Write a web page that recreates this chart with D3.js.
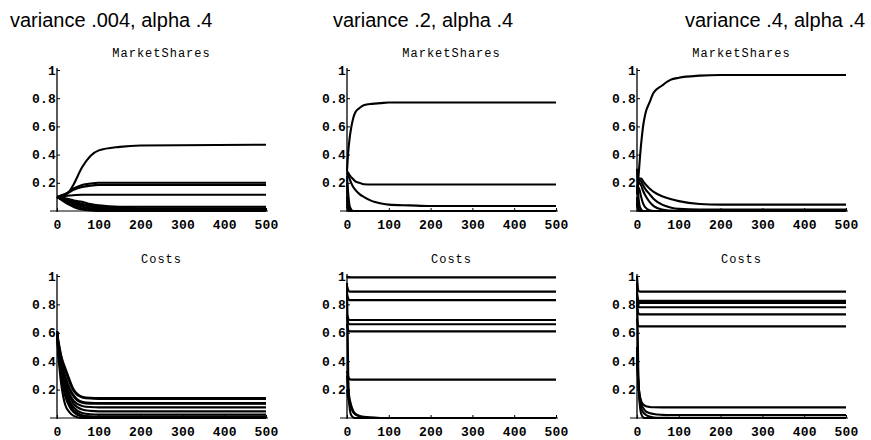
<!DOCTYPE html>
<html>
<head>
<meta charset="utf-8">
<script src="https://cdn.jsdelivr.net/npm/d3@7"></script>
<style>
  body { margin: 0; background: #fff; }
  svg { display: block; }
  .big { font-family: "Liberation Sans", Arial, sans-serif; font-size: 20px; }
  .mono { font-family: "Liberation Mono", "Courier New", monospace; }
</style>
</head>
<body>
<svg width="871" height="440"></svg>
<script>
// time points shared by every series
var times = [0, 3, 6, 10, 15, 20, 30, 40, 60, 80, 100, 150, 200, 500];

var panelTitles = ["variance .004, alpha .4", "variance .2, alpha .4", "variance .4, alpha .4"];
var xTicks = [0, 100, 200, 300, 400, 500];
var yTicks = [0.2, 0.4, 0.6, 0.8, 1];

// variance .004
var shares1 = [
  [0.1, 0.1, 0.1, 0.105, 0.11, 0.115, 0.14, 0.19, 0.31, 0.39, 0.43, 0.455, 0.465, 0.47],
  [0.1, 0.1, 0.105, 0.11, 0.115, 0.12, 0.14, 0.16, 0.185, 0.195, 0.2, 0.2, 0.2, 0.2],
  [0.1, 0.1, 0.105, 0.11, 0.115, 0.12, 0.135, 0.15, 0.17, 0.18, 0.185, 0.185, 0.185, 0.185],
  [0.1, 0.1, 0.1, 0.102, 0.105, 0.107, 0.11, 0.112, 0.115, 0.115, 0.115, 0.115, 0.115, 0.115],
  [0.1, 0.1, 0.099, 0.097, 0.094, 0.09, 0.083, 0.075, 0.065, 0.05, 0.04, 0.03, 0.03, 0.03],
  [0.1, 0.098, 0.096, 0.093, 0.089, 0.085, 0.077, 0.068, 0.052, 0.04, 0.032, 0.022, 0.02, 0.02],
  [0.1, 0.097, 0.094, 0.09, 0.085, 0.08, 0.07, 0.06, 0.042, 0.03, 0.022, 0.012, 0.01, 0.01],
  [0.1, 0.096, 0.092, 0.087, 0.08, 0.074, 0.062, 0.05, 0.032, 0.02, 0.013, 0.006, 0.005, 0.005],
  [0.1, 0.095, 0.09, 0.083, 0.075, 0.067, 0.052, 0.04, 0.02, 0.01, 0.005, 0.001, 0, 0],
  [0.1, 0.094, 0.088, 0.08, 0.07, 0.06, 0.043, 0.028, 0.01, 0.003, 0.001, 0, 0, 0]
];
var costs1 = [
  [0.61, 0.55, 0.5, 0.44, 0.39, 0.35, 0.27, 0.2, 0.15, 0.142, 0.14, 0.14, 0.14, 0.14],
  [0.61, 0.54, 0.49, 0.43, 0.37, 0.33, 0.25, 0.19, 0.145, 0.137, 0.135, 0.135, 0.135, 0.135],
  [0.61, 0.53, 0.47, 0.4, 0.34, 0.29, 0.21, 0.16, 0.115, 0.107, 0.105, 0.105, 0.105, 0.105],
  [0.61, 0.52, 0.46, 0.39, 0.33, 0.28, 0.2, 0.15, 0.108, 0.101, 0.1, 0.1, 0.1, 0.1],
  [0.61, 0.51, 0.44, 0.37, 0.3, 0.25, 0.17, 0.12, 0.085, 0.077, 0.075, 0.075, 0.075, 0.075],
  [0.61, 0.5, 0.43, 0.35, 0.28, 0.23, 0.15, 0.1, 0.06, 0.05, 0.047, 0.047, 0.047, 0.047],
  [0.61, 0.49, 0.41, 0.33, 0.26, 0.2, 0.12, 0.075, 0.035, 0.026, 0.024, 0.024, 0.024, 0.024],
  [0.61, 0.48, 0.4, 0.31, 0.24, 0.18, 0.1, 0.055, 0.02, 0.012, 0.01, 0.01, 0.01, 0.01],
  [0.61, 0.47, 0.38, 0.29, 0.21, 0.15, 0.08, 0.04, 0.01, 0.002, 0, 0, 0, 0],
  [0.61, 0.45, 0.35, 0.24, 0.15, 0.09, 0.04, 0.015, 0, 0, 0, 0, 0, 0]
];

// variance .2
var shares2 = [
  [0.28, 0.42, 0.51, 0.59, 0.66, 0.7, 0.73, 0.75, 0.76, 0.765, 0.77, 0.77, 0.77, 0.77],
  [0.28, 0.27, 0.255, 0.24, 0.225, 0.21, 0.2, 0.19, 0.188, 0.188, 0.188, 0.188, 0.188, 0.188],
  [0.27, 0.25, 0.23, 0.2, 0.17, 0.15, 0.12, 0.1, 0.07, 0.055, 0.045, 0.04, 0.035, 0.035],
  [0.25, 0.12, 0.04, 0.01, 0, 0, 0, 0, 0, 0, 0, 0, 0, 0],
  [0.2, 0.08, 0.02, 0, 0, 0, 0, 0, 0, 0, 0, 0, 0, 0],
  [0.15, 0.05, 0.01, 0, 0, 0, 0, 0, 0, 0, 0, 0, 0, 0],
  [0.1, 0.03, 0, 0, 0, 0, 0, 0, 0, 0, 0, 0, 0, 0],
  [0.08, 0.02, 0, 0, 0, 0, 0, 0, 0, 0, 0, 0, 0, 0],
  [0.05, 0.01, 0, 0, 0, 0, 0, 0, 0, 0, 0, 0, 0, 0],
  [0.03, 0.005, 0, 0, 0, 0, 0, 0, 0, 0, 0, 0, 0, 0]
];
var costs2 = [
  [1.0, 0.99, 0.99, 0.99, 0.99, 0.99, 0.99, 0.99, 0.99, 0.99, 0.99, 0.99, 0.99, 0.99],
  [0.93, 0.9, 0.89, 0.89, 0.89, 0.89, 0.89, 0.89, 0.89, 0.89, 0.89, 0.89, 0.89, 0.89],
  [0.87, 0.84, 0.83, 0.83, 0.83, 0.83, 0.83, 0.83, 0.83, 0.83, 0.83, 0.83, 0.83, 0.83],
  [0.73, 0.7, 0.69, 0.69, 0.69, 0.69, 0.69, 0.69, 0.69, 0.69, 0.69, 0.69, 0.69, 0.69],
  [0.71, 0.67, 0.66, 0.66, 0.66, 0.66, 0.66, 0.66, 0.66, 0.66, 0.66, 0.66, 0.66, 0.66],
  [0.66, 0.62, 0.61, 0.61, 0.61, 0.61, 0.61, 0.61, 0.61, 0.61, 0.61, 0.61, 0.61, 0.61],
  [0.33, 0.29, 0.275, 0.27, 0.27, 0.27, 0.27, 0.27, 0.27, 0.27, 0.27, 0.27, 0.27, 0.27],
  [0.95, 0.3, 0.08, 0.02, 0.005, 0, 0, 0, 0, 0, 0, 0, 0, 0],
  [0.3, 0.2, 0.14, 0.09, 0.05, 0.03, 0.015, 0.008, 0.003, 0, 0, 0, 0, 0],
  [0.2, 0.14, 0.1, 0.07, 0.04, 0.025, 0.012, 0.006, 0.002, 0, 0, 0, 0, 0]
];

// variance .4
var shares3 = [
  [0.12, 0.22, 0.34, 0.48, 0.61, 0.69, 0.77, 0.84, 0.89, 0.93, 0.945, 0.96, 0.965, 0.965],
  [0.12, 0.2, 0.23, 0.23, 0.21, 0.19, 0.16, 0.135, 0.105, 0.085, 0.07, 0.05, 0.045, 0.045],
  [0.12, 0.2, 0.22, 0.21, 0.18, 0.155, 0.12, 0.085, 0.045, 0.025, 0.015, 0.01, 0.01, 0.01],
  [0.12, 0.19, 0.2, 0.18, 0.14, 0.11, 0.065, 0.035, 0.01, 0.003, 0, 0, 0, 0],
  [0.12, 0.17, 0.15, 0.1, 0.05, 0.025, 0.005, 0, 0, 0, 0, 0, 0, 0],
  [0.3, 0.12, 0.04, 0.01, 0, 0, 0, 0, 0, 0, 0, 0, 0, 0],
  [0.1, 0.03, 0.005, 0, 0, 0, 0, 0, 0, 0, 0, 0, 0, 0],
  [0.08, 0.02, 0, 0, 0, 0, 0, 0, 0, 0, 0, 0, 0, 0],
  [0.05, 0.01, 0, 0, 0, 0, 0, 0, 0, 0, 0, 0, 0, 0],
  [0.06, 0.01, 0, 0, 0, 0, 0, 0, 0, 0, 0, 0, 0, 0]
];
var costs3 = [
  [1.0, 0.9, 0.89, 0.89, 0.89, 0.89, 0.89, 0.89, 0.89, 0.89, 0.89, 0.89, 0.89, 0.89],
  [0.88, 0.83, 0.825, 0.825, 0.825, 0.825, 0.825, 0.825, 0.825, 0.825, 0.825, 0.825, 0.825, 0.825],
  [0.86, 0.815, 0.81, 0.81, 0.81, 0.81, 0.81, 0.81, 0.81, 0.81, 0.81, 0.81, 0.81, 0.81],
  [0.84, 0.785, 0.78, 0.78, 0.78, 0.78, 0.78, 0.78, 0.78, 0.78, 0.78, 0.78, 0.78, 0.78],
  [0.8, 0.74, 0.73, 0.73, 0.73, 0.73, 0.73, 0.73, 0.73, 0.73, 0.73, 0.73, 0.73, 0.73],
  [0.7, 0.65, 0.645, 0.645, 0.645, 0.645, 0.645, 0.645, 0.645, 0.645, 0.645, 0.645, 0.645, 0.645],
  [0.42, 0.25, 0.17, 0.12, 0.095, 0.085, 0.078, 0.076, 0.075, 0.075, 0.075, 0.075, 0.075, 0.075],
  [0.45, 0.26, 0.16, 0.1, 0.07, 0.05, 0.035, 0.028, 0.022, 0.02, 0.02, 0.02, 0.02, 0.02],
  [0.5, 0.25, 0.13, 0.07, 0.04, 0.025, 0.01, 0.004, 0.001, 0, 0, 0, 0, 0],
  [0.95, 0.35, 0.12, 0.03, 0.005, 0, 0, 0, 0, 0, 0, 0, 0, 0]
];

var columns = [[shares1, costs1], [shares2, costs2], [shares3, costs3]];
var rowNames = ["MarketShares", "Costs"];

var svg = d3.select("svg");
var colLeft = [57, 347, 637];
var titleX = [10, 333, 685];
var plotW = 209;
var rowTop = [70, 276];
var rowBottom = [211, 418];

function styleTicks(g) {
  g.select(".domain").remove();
  g.selectAll("line").attr("stroke", "#000");
  g.selectAll("text").attr("class", "mono").attr("fill", "#000")
    .style("font-size", "13px").style("font-weight", "bold").style("letter-spacing", "0.2px");
}

function drawPanel(left, row, series) {
  var x = d3.scaleLinear().domain([0, 500]).range([left, left + plotW]);
  var y = d3.scaleLinear().domain([0, 1]).range([rowBottom[row], rowTop[row]]);

  svg.append("text").attr("class", "mono")
    .attr("x", (x(0) + x(500)) / 2).attr("y", rowTop[row] - 13)
    .attr("text-anchor", "middle").style("font-size", "12px").style("letter-spacing", "1px")
    .text(rowNames[row]);

  var line = d3.line().x(function (d, i) { return x(times[i]); }).y(function (d) { return y(d); }).curve(d3.curveMonotoneX);
  svg.append("g").selectAll("path").data(series).join("path")
    .attr("d", line).attr("fill", "none").attr("stroke", "#000")
    .attr("stroke-width", 2.1).attr("stroke-linejoin", "round");

  // axes
  svg.append("line").attr("x1", x(0) - 7).attr("x2", x(500) + 2)
    .attr("y1", y(0)).attr("y2", y(0)).attr("stroke", "#000");
  svg.append("line").attr("x1", x(0)).attr("x2", x(0))
    .attr("y1", y(0) + 1).attr("y2", y(1) - 2).attr("stroke", "#000").attr("stroke-width", 1.3);

  svg.append("g").attr("transform", "translate(0," + y(0) + ")")
    .call(d3.axisBottom(x).tickValues(xTicks).tickSizeInner(-3).tickSizeOuter(0).tickPadding(9))
    .call(styleTicks);

  svg.append("g").attr("transform", "translate(" + x(0) + ",0)")
    .call(d3.axisLeft(y).tickValues(yTicks).tickSizeInner(-3).tickSizeOuter(0).tickPadding(1)
      .tickFormat(function (d) { return d === 1 ? "1" : d.toFixed(1); }))
    .call(styleTicks);
}

columns.forEach(function (col, c) {
  svg.append("text").attr("class", "big").attr("x", titleX[c]).attr("y", 27).text(panelTitles[c]);
  drawPanel(colLeft[c], 0, col[0]);
  drawPanel(colLeft[c], 1, col[1]);
});
</script>
</body>
</html>
